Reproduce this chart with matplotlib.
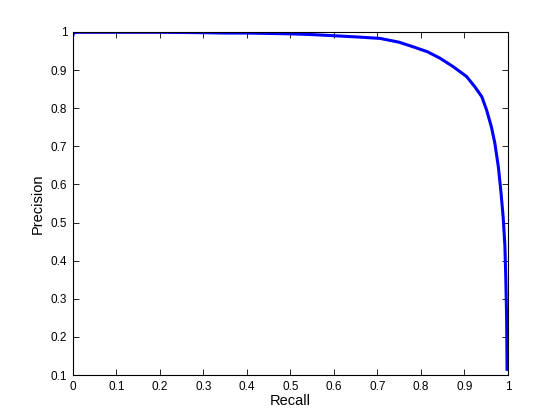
import matplotlib
matplotlib.use("Agg")
import matplotlib.pyplot as plt

plt.rcParams["font.family"] = ["Liberation Sans", "DejaVu Sans"]

# precision-recall curve
recall = [0.0, 0.002, 0.01, 0.1, 0.2, 0.3, 0.35, 0.4, 0.5, 0.55, 0.6, 0.65,
          0.706, 0.75, 0.782, 0.815, 0.844, 0.874, 0.905, 0.924, 0.940, 0.951,
          0.962, 0.970, 0.978, 0.984, 0.989, 0.993, 0.995, 0.997, 0.998]
precision = [0.99, 0.998, 0.999, 0.999, 0.999, 0.998, 0.997, 0.997, 0.995,
             0.993, 0.990, 0.987, 0.983, 0.973, 0.961, 0.948, 0.931, 0.909,
             0.883, 0.856, 0.830, 0.795, 0.751, 0.708, 0.646, 0.580, 0.515,
             0.440, 0.36, 0.25, 0.115]

x_ticks = [0, 0.1, 0.2, 0.3, 0.4, 0.5, 0.6, 0.7, 0.8, 0.9, 1]
y_ticks = [0.1, 0.2, 0.3, 0.4, 0.5, 0.6, 0.7, 0.8, 0.9, 1]

fig = plt.figure(figsize=(5.6, 4.2), dpi=100)
ax = fig.add_axes([0.130, 0.107, 0.777, 0.817])
ax.plot(recall, precision, color="#0000ff", linewidth=2.2, solid_joinstyle="miter")
ax.set_xlim(0, 1)
ax.set_ylim(0.1, 1)
ax.set_xticks(x_ticks)
ax.set_yticks(y_ticks)
ax.set_xticklabels([f"{t:g}" for t in x_ticks])
ax.set_yticklabels([f"{t:g}" for t in y_ticks])
ax.tick_params(direction="in", top=True, right=True, length=4, width=0.6,
               labelsize=8.5, pad=4)
for s in ax.spines.values():
    s.set_linewidth(0.8)
ax.set_xlabel("Recall", fontsize=10.5, labelpad=1)
ax.set_ylabel("Precision", fontsize=10.5, labelpad=4)
fig.savefig("out.png", dpi=100)
